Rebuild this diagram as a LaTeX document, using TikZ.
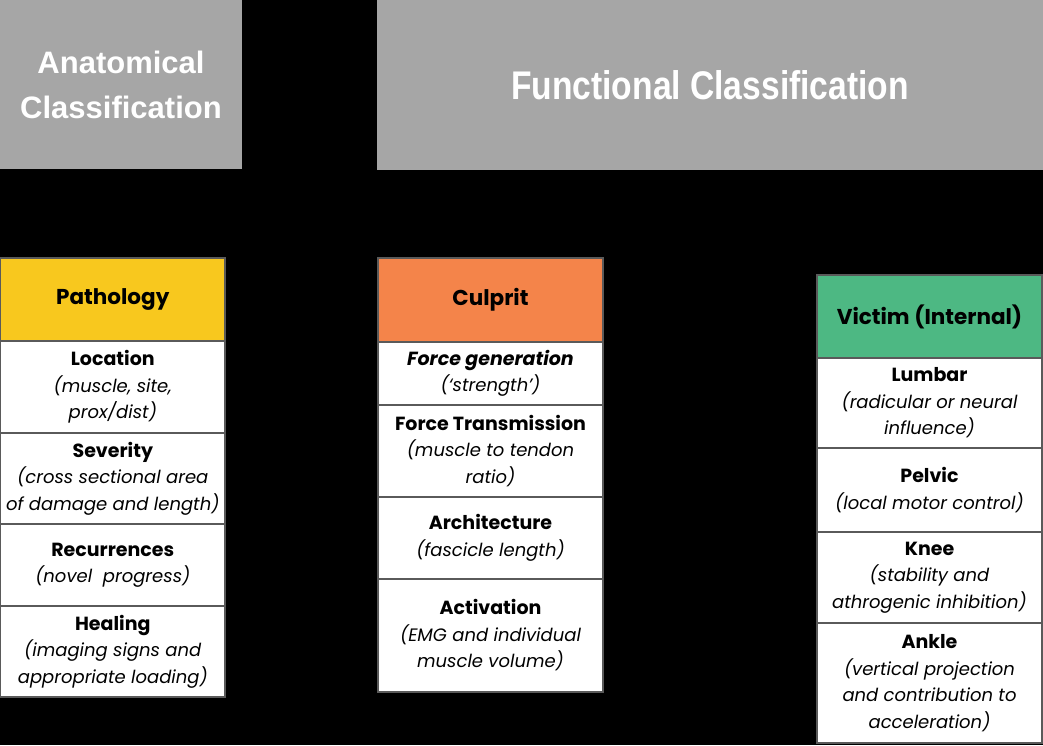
\documentclass[tikz,border=0pt]{standalone}
\usepackage{fontspec}
\setmainfont{Poppins}
\newfontfamily\headfont{Liberation Sans}
\definecolor{hgray}{HTML}{A6A6A6}
\definecolor{pyellow}{HTML}{F8C81E}
\definecolor{corange}{HTML}{F4844A}
\definecolor{vgreen}{HTML}{4DB883}
\definecolor{rule}{HTML}{5A5A5A}
\newcommand\mkcell[7]{%
  \node[cellbase,fill=#7,minimum width={(#4)-(#2)},minimum height={(#5)-(#3)}]
    (#1) at ({((#2)+(#4))/2},{((#3)+(#5))/2}) {#6};}
\newcommand\ttl[1]{{\fontsize{19}{26.5}\selectfont\bfseries #1}}
\newcommand\hd[1]{{\fontsize{21.5}{27}\selectfont\bfseries #1}}
\begin{document}
\begin{tikzpicture}[x=1pt,y=-1pt,
  cellbase/.style={draw=rule,line width=1.2pt,inner sep=0pt,align=center,
    font=\fontsize{18}{26.5}\selectfont\itshape,text=black},
  bgtitle/.style={fill=hgray,inner sep=0pt,text=white,align=center}]
\fill[black] (0,0) rectangle (1043,745);
\useasboundingbox (0,0) rectangle (1043,745);
% titles
\node[bgtitle,minimum width=242,minimum height=169,
  font=\headfont\fontsize{31}{45}\selectfont\bfseries] (anat) at (121,84.5)
  {Anatomical\\Classification};
\node[bgtitle,minimum width=666,minimum height=170,
  font=\headfont\fontsize{40}{45}\selectfont\bfseries] (func) at (710,85)
  {\scalebox{0.84}[1]{Functional Classification}};
% Pathology
\mkcell{path}{0.6}{258}{225}{341}{\hd{\upshape Pathology}}{pyellow}
\mkcell{loc}{0.6}{341}{225}{433}{\ttl{\upshape Location}\\(muscle, site,\\prox/dist)}{white}
\mkcell{sev}{0.6}{433}{225}{524}{\ttl{\upshape Severity}\\(cross sectional area\\of damage and length)}{white}
\mkcell{rec}{0.6}{524}{225}{606}{\ttl{\upshape Recurrences}\\(novel\ \ progress)}{white}
\mkcell{heal}{0.6}{606}{225}{697}{\ttl{\upshape Healing}\\(imaging signs and\\appropriate loading)}{white}
% Culprit
\mkcell{culp}{378}{258}{603}{342}{\hd{\upshape Culprit}}{corange}
\mkcell{fgen}{378}{342}{603}{405}{\ttl{Force generation}\\(‘strength’)}{white}
\mkcell{ftr}{378}{405}{603}{497}{\ttl{\upshape Force Transmission}\\(muscle to tendon\\ratio)}{white}
\mkcell{arch}{378}{497}{603}{579}{\ttl{\upshape Architecture}\\(fascicle length)}{white}
\mkcell{act}{378}{579}{603}{692}{\ttl{\upshape Activation}\\(EMG and individual\\muscle volume)}{white}
% Victim
\mkcell{vict}{817}{275}{1042}{358}{\hd{\upshape Victim (Internal)}}{vgreen}
\mkcell{lumb}{817}{358}{1042}{448}{\ttl{\upshape Lumbar}\\(radicular or neural\\influence)}{white}
\mkcell{pelv}{817}{448}{1042}{532}{\ttl{\upshape Pelvic}\\(local motor control)}{white}
\mkcell{knee}{817}{532}{1042}{623}{\ttl{\upshape Knee}\\(stability and\\athrogenic inhibition)}{white}
\mkcell{ankl}{817}{623}{1042}{743}{\ttl{\upshape Ankle}\\(vertical projection\\and contribution to\\acceleration)}{white}
\end{tikzpicture}
\end{document}
